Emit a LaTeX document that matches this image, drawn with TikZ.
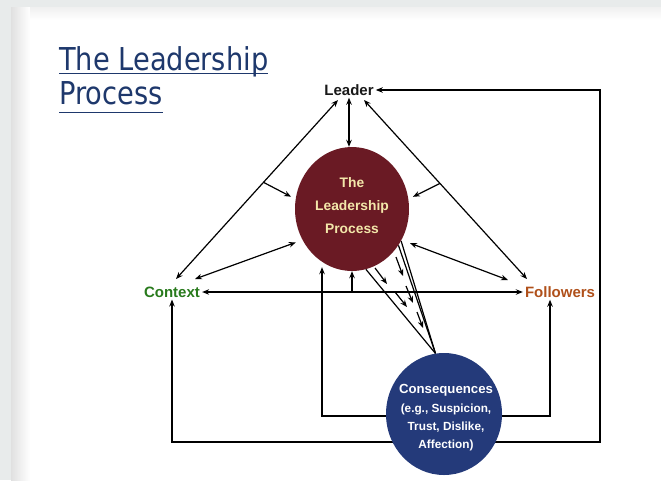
\documentclass[tikz,border=0pt]{standalone}
\usepackage{fontspec}
\setmainfont{Liberation Sans}
\newfontfamily\titlefont{DejaVu Sans}
\usetikzlibrary{shapes.geometric,arrows.meta,calc}
\definecolor{bggray}{RGB}{232,235,235}
\definecolor{titlenavy}{RGB}{30,56,108}
\definecolor{lpred}{RGB}{106,26,36}
\definecolor{conblue}{RGB}{36,58,122}
\definecolor{creamtxt}{RGB}{243,231,170}
\definecolor{ctxgreen}{RGB}{40,122,28}
\definecolor{folorange}{RGB}{176,80,26}
\pgfdeclarelayer{back}
\pgfdeclarelayer{bg}
\pgfsetlayers{back,bg,main}
\begin{document}
\begin{tikzpicture}[x=1pt,y=-1pt,
  >={Stealth[length=7pt,width=5.5pt]},
  conn/.style={line width=1.2pt,black},
  lbl/.style={font=\fontsize{15}{17}\selectfont\bfseries, inner sep=2pt},
  ttl/.style={font=\titlefont\fontsize{31.5}{36}\selectfont, text=titlenavy, anchor=base west, inner sep=0pt},
  circ/.style={ellipse, inner sep=0pt, minimum width=114pt, minimum height=124pt}]
\useasboundingbox (0,0) rectangle (661,480);
\begin{pgfonlayer}{back}
\fill[bggray] (0,0) rectangle (661,480);
\fill[white] (11,7) rectangle (661,480);
\shade[left color=black!12, right color=white] (11,7) rectangle (30,480);
\shade[top color=black!6, bottom color=white] (30,7) rectangle (661,20);
\end{pgfonlayer}

% title
\node[ttl] (t1) at (59,70) {\scalebox{0.865}[1]{The Leadership}};
\node[ttl] (t2) at (59,104) {\scalebox{0.865}[1]{Process}};
\draw[titlenavy, line width=1.8pt] ($(t1.base west)+(0,3.5)$) -- ($(t1.base east)+(0,3.5)$);
\draw[titlenavy, line width=1.8pt] ($(t2.base west)+(0,8.5)$) -- ($(t2.base east)+(0,8.5)$);

% nodes
\node[lbl, text=black!90] (leader) at (349,90) {Leader};
\node[lbl, text=ctxgreen] (context) at (172,292) {Context};
\node[lbl, text=folorange] (followers) at (560,292) {Followers};
\node[circ, fill=lpred] (lp) at (352,209) {};
\node[align=center, text=creamtxt, font=\fontsize{13.8}{23}\selectfont\bfseries] (lptext) at (352,206) {The\\Leadership\\Process};
\node[circ, fill=conblue, minimum width=116pt, minimum height=122pt] (cons) at (444,414) {};
\node[align=center, text=white, font=\fontsize{11.8}{18.3}\selectfont\bfseries] (constext) at (446,418) {{\fontsize{13.2}{18.3}\selectfont Consequences}\\(e.g., Suspicion,\\Trust, Dislike,\\Affection)};

% helper coordinates
\coordinate (lc) at (338,100);
\coordinate (cl) at (176,279);
\coordinate (lf) at (364,100);
\coordinate (fl) at (527,279);
\coordinate (cr) at (195,279);
\coordinate (fr) at (508,280);
\coordinate (ib) at (444,416);
\coordinate (ob) at (444,442);
\coordinate (rt) at (600,90);
\coordinate (fb) at ([xshift=-10pt]followers.south);

\begin{pgfonlayer}{bg}
% triangle
\draw[conn,<->] (lc) -- (cl);
\draw[conn,<->] (lf) -- (fl);
\draw[conn,<->] (leader.south) -- (leader.south |- lp.north);
\draw[conn,<->] (context.east) -- (followers.west);
% into the leadership process
\draw[conn,<->, shorten >=7pt] (cr) -- (lp.212);
\draw[conn,<->, shorten >=9pt] (fr) -- (lp.328);
\draw[conn,->, shorten >=5pt] ($(lc)!0.46!(cl)$) -- (lp.170);
\draw[conn,->, shorten >=5pt] ($(lf)!0.466!(fl)$) -- (lp.10);
\draw[conn,->] (lp.south |- context.east) -- (lp.south);
% loops from consequences
\draw[conn,->] (ib) -| ([xshift=-30pt,yshift=4pt]lp.south);
\draw[conn,->] (ib) -| (fb);
\draw[conn,->] (ob) -| (context.south);
\draw[conn,->] (ob) -| (rt) -- (leader.east);
% converging lines
\draw[conn] (cons.98) -- (lp.283);
\draw[conn] (cons.98) -- (lp.322);
\draw[conn] (cons.98) -- (lp.327);
% dashed arrows
\foreach \ax/\ay/\bx/\by in {375/268/387/284, 395/292/407/307, 396/257/403/276, 406/286/413/303, 417/312/423/328}
  \draw[conn,->] (\ax,\ay) -- (\bx,\by);
\end{pgfonlayer}
\end{tikzpicture}
\end{document}
